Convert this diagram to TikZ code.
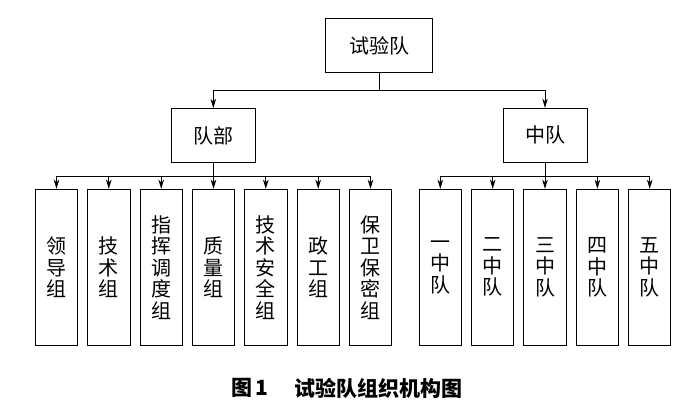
\documentclass[tikz,border=0pt]{standalone}
\usepackage{fontspec}
\newfontfamily\cjk{Noto Sans CJK SC}
\usetikzlibrary{arrows.meta}
\begin{document}
\begin{tikzpicture}[x=1pt,y=-1pt,
  box/.style={draw,line width=1pt,inner sep=0pt,font=\cjk\fontsize{20}{21.5}\selectfont,align=center},
  topbox/.style={box,minimum width=107pt,minimum height=54pt},
  midbox/.style={box,minimum width=84pt,minimum height=54pt},
  leafbox/.style={box,minimum width=42.4pt,minimum height=156pt},
  arr/.style={line width=1pt,-{Stealth[length=9pt,width=5.5pt,inset=2.5pt]}},
  captext/.style={inner sep=0pt,anchor=west,font=\cjk\bfseries\fontsize{21}{22}\selectfont}]
\useasboundingbox (0,0) rectangle (700,405);
\fill[white] (0,0) rectangle (700,405);
\node[topbox] (top) at (379.2,45.5) {试验队};
\node[midbox] (bu) at (213.3,135.5) {队部};
\node[midbox] (zd) at (545,135.3) {中队};
\node[leafbox] (L1) at (56.5,267.3) {领\\导\\组};
\node[leafbox] (L2) at (108.8,267.3) {技\\术\\组};
\node[leafbox] (L3) at (161.2,267.3) {指\\挥\\调\\度\\组};
\node[leafbox] (L4) at (213.5,267.3) {质\\量\\组};
\node[leafbox] (L5) at (265.8,267.3) {技\\术\\安\\全\\组};
\node[leafbox] (L6) at (318.2,267.3) {政\\工\\组};
\node[leafbox] (L7) at (370.5,267.3) {保\\卫\\保\\密\\组};
\node[leafbox] (R1) at (440.3,267.3) {一\\中\\队};
\node[leafbox] (R2) at (492.7,267.3) {二\\中\\队};
\node[leafbox] (R3) at (545,267.3) {三\\中\\队};
\node[leafbox] (R4) at (597.4,267.3) {四\\中\\队};
\node[leafbox] (R5) at (649.7,267.3) {五\\中\\队};
\draw[arr] (top.south) -- ++(0,17.6) -| (bu.north);
\draw[arr] (top.south) -- ++(0,17.6) -| (zd.north);
\foreach \i in {1,...,7} {\draw[arr] (bu.south) -- ++(0,13.4) -| (L\i.north);}
\foreach \i in {1,...,5} {\draw[arr] (zd.south) -- ++(0,13.4) -| (R\i.north);}
\node[captext] (c1) at (231,388) {图\,1};
\node[captext] (c2) at (294,388) {试验队组织机构图};
\end{tikzpicture}
\end{document}
